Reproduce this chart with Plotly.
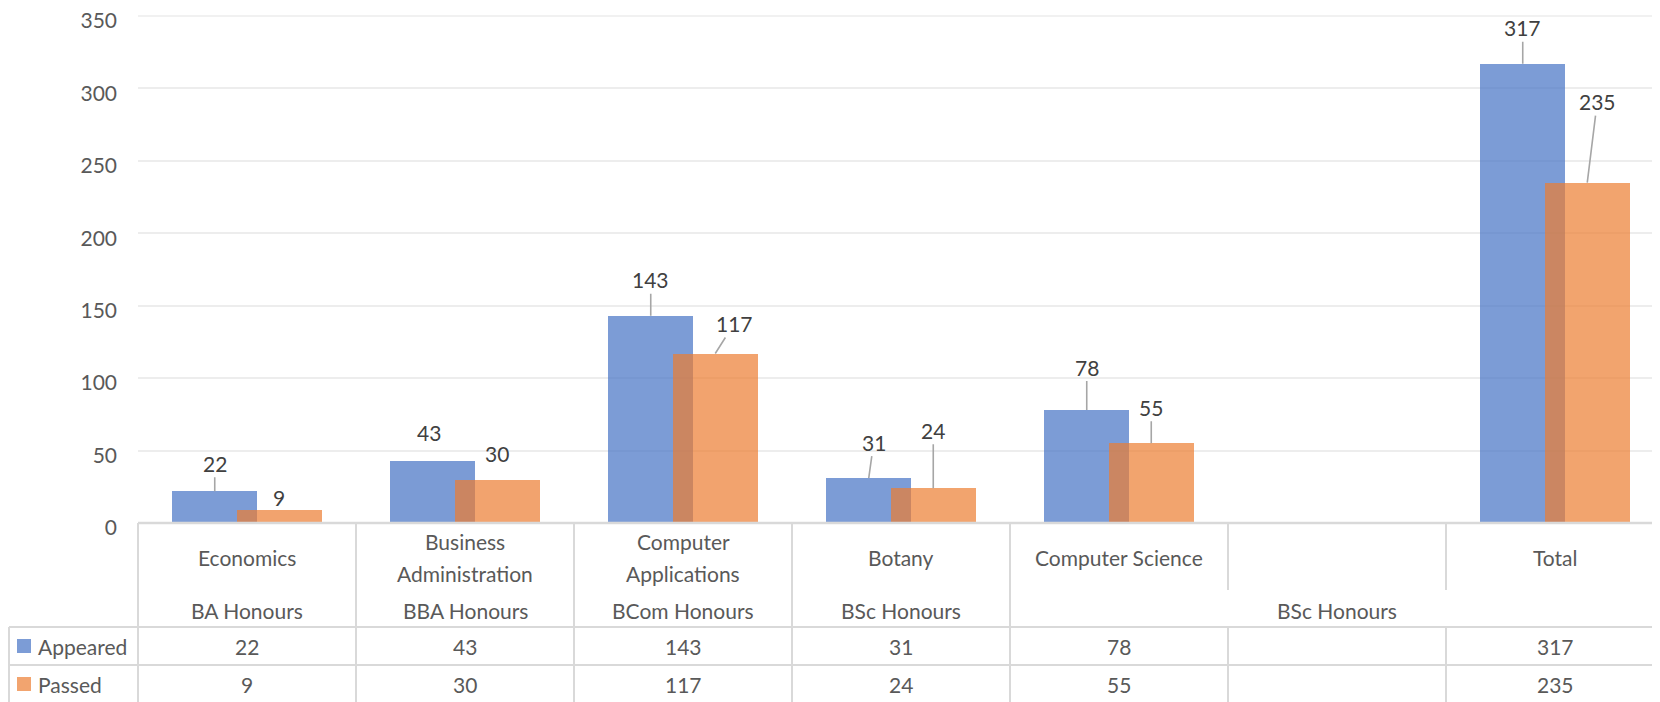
import plotly.graph_objects as go

# ---------------- data ----------------
categories = ["Economics", "Business\nAdministration", "Computer\nApplications",
              "Botany", "Computer Science", "", "Total"]
group_labels = ["BA Honours", "BBA Honours", "BCom Honours", "BSc Honours", "BSc Honours"]
group_spans = [(0, 0), (1, 1), (2, 2), (3, 3), (4, 6)]
appeared = [22, 43, 143, 31, 78, None, 317]
passed = [9, 30, 117, 24, 55, None, 235]
series_names = ["Appeared", "Passed"]
y_ticks = [0, 50, 100, 150, 200, 250, 300, 350]

# label offsets (pixels) and leader-line visibility (style, not data)
app_off = [(0, -28), (-4, -28), (0, -36), (5, -36), (0, -43), None, (0, -36)]
app_lead = [True, False, True, True, True, False, True]
pas_off = [(0, -12), (0, -26), (19, -30), (0, -58), (0, -36), None, (10, -81)]
pas_lead = [False, False, True, True, True, False, True]

# ---------------- layout geometry ----------------
PAGE_OFF = 8          # default body margin of the html page
PW, PHT = 1660, 702   # page size
W, H = PW - PAGE_OFF, PHT - PAGE_OFF
PLOT_LEFT_PAGE = 138
PLOT_TOP_PAGE = 16
PLOT_BOTTOM_PAGE = 523
L = PLOT_LEFT_PAGE - PAGE_OFF
T = PLOT_TOP_PAGE - PAGE_OFF
PB = PLOT_BOTTOM_PAGE - PAGE_OFF   # plot bottom in figure pixels
B = H - PB
PH = H - T - B
COLW = 218.0
xmin = -0.5
xmax = xmin + (W - L) / COLW

def xp(px_page):
    return (px_page - PAGE_OFF - L) / (W - L)

def yp(py_page):
    return (PB - (py_page - PAGE_OFF)) / PH

def ysh(py_page):
    return PB - (py_page - PAGE_OFF)

BLUE = "#4472C4"
ORANGE = "#ED7D31"
OP = 0.7
BLUE_L = "#7C9CD6"
ORANGE_L = "#F2A46F"
GRID = "#EDEDED"
LINE = "#D9D9D9"
TXT = "#595959"
LBL = "#404040"
FONT = "Lato"
FS = 21

BAR_W = 0.392
xs = list(range(len(categories)))

fig = go.Figure()
fig.add_trace(go.Bar(x=xs, y=appeared, name=series_names[0], marker=dict(color=BLUE, line=dict(width=0)),
                     opacity=OP, offset=-0.344, width=BAR_W, showlegend=False))
fig.add_trace(go.Bar(x=xs, y=passed, name=series_names[1], marker=dict(color=ORANGE, line=dict(width=0)),
                     opacity=OP, offset=-0.048, width=BAR_W, showlegend=False))

annotations = []
shapes = []

# top gridline (at range end)
shapes.append(dict(type="line", xref="paper", yref="paper", x0=0, x1=1, y0=1, y1=1,
                   line=dict(color=GRID, width=1.5), layer="below"))

# data labels with leader lines
for vals, offs, leads, off0 in [(appeared, app_off, app_lead, -0.344), (passed, pas_off, pas_lead, -0.048)]:
    for i, v in enumerate(vals):
        if v is None:
            continue
        cx = i + off0 + BAR_W / 2
        dx, dy = offs[i]
        annotations.append(dict(
            x=cx, y=v, xref="x", yref="y", text=str(v), showarrow=True,
            arrowhead=0, arrowwidth=1.6, standoff=0,
            arrowcolor="#A6A6A6" if leads[i] else "rgba(0,0,0,0)",
            ax=dx, ay=dy, font=dict(family=FONT, size=FS, color=LBL)))

# axis line
shapes.append(dict(type="line", xref="paper", yref="paper", x0=0, x1=1, y0=0, y1=0,
                   line=dict(color=LINE, width=2.5)))

# column boundaries
def interior(k):
    for a, b in group_spans:
        if a < k <= b:
            return True
    return False

for k in range(len(categories)):
    px = PLOT_LEFT_PAGE + k * COLW
    if interior(k):
        segs = [(PLOT_BOTTOM_PAGE, 590), (627, PHT)]
    else:
        segs = [(PLOT_BOTTOM_PAGE, PHT)]
    for y0, y1 in segs:
        shapes.append(dict(type="line", xref="paper", yref="paper", x0=xp(px), x1=xp(px),
                           y0=yp(y0), y1=yp(y1), line=dict(color=LINE, width=2)))

# table horizontal lines
for py in [627, 665]:
    shapes.append(dict(type="line", xref="paper", yref="paper", x0=xp(9), x1=1,
                       y0=yp(py), y1=yp(py), line=dict(color=LINE, width=2)))
shapes.append(dict(type="line", xref="paper", yref="paper", x0=xp(9), x1=xp(9),
                   y0=yp(627), y1=yp(PHT), line=dict(color=LINE, width=2)))

# category labels
for i, c in enumerate(categories):
    lines = c.split("\n") if c else []
    n = len(lines)
    for j, ln in enumerate(lines):
        cy = 557 + (j - (n - 1) / 2) * 32
        annotations.append(dict(x=i, y=0, xref="x", yref="paper", text=ln, showarrow=False,
                                yanchor="middle", yshift=ysh(cy),
                                font=dict(family=FONT, size=FS, color=TXT)))

# group labels
for g, (a, b) in zip(group_labels, group_spans):
    annotations.append(dict(x=(a + b) / 2, y=0, xref="x", yref="paper", text=g, showarrow=False,
                            yanchor="middle", yshift=ysh(610),
                            font=dict(family=FONT, size=FS, color=TXT)))

# data table rows
for name, vals, col, cy in [(series_names[0], appeared, BLUE_L, 646),
                            (series_names[1], passed, ORANGE_L, 684)]:
    shapes.append(dict(type="rect", xref="paper", yref="paper", x0=xp(17), x1=xp(31),
                       y0=yp(cy - 7), y1=yp(cy + 7), fillcolor=col, line=dict(width=0)))
    annotations.append(dict(x=xp(36), y=0, xref="paper", yref="paper", text=name, showarrow=False,
                            xanchor="left", yanchor="middle", yshift=ysh(cy),
                            font=dict(family=FONT, size=FS, color=TXT)))
    for i, v in enumerate(vals):
        if v is None:
            continue
        annotations.append(dict(x=i, y=0, xref="x", yref="paper", text=str(v), showarrow=False,
                                yanchor="middle", yshift=ysh(cy),
                                font=dict(family=FONT, size=FS, color=TXT)))

fig.update_layout(
    width=W, height=H, margin=dict(l=L, r=0, t=T, b=B, pad=0, autoexpand=False),
    paper_bgcolor="white", plot_bgcolor="white",
    barmode="overlay", bargap=0,
    xaxis=dict(range=[xmin, xmax], showticklabels=False, showgrid=False, zeroline=False,
               showline=False, ticks="", fixedrange=True, automargin=False),
    yaxis=dict(range=[0, 350], tickvals=y_ticks, showgrid=True, gridcolor=GRID, gridwidth=1.5,
               zeroline=False, showline=False, ticks="", ticklabelstandoff=20,
               ticklabeloverflow="allow", automargin=False, ticklabelshift=5,
               tickfont=dict(family=FONT, size=FS, color=TXT)),
    annotations=annotations, shapes=shapes,
    font=dict(family=FONT, size=FS, color=TXT),
)

fig.write_html("out.html")
